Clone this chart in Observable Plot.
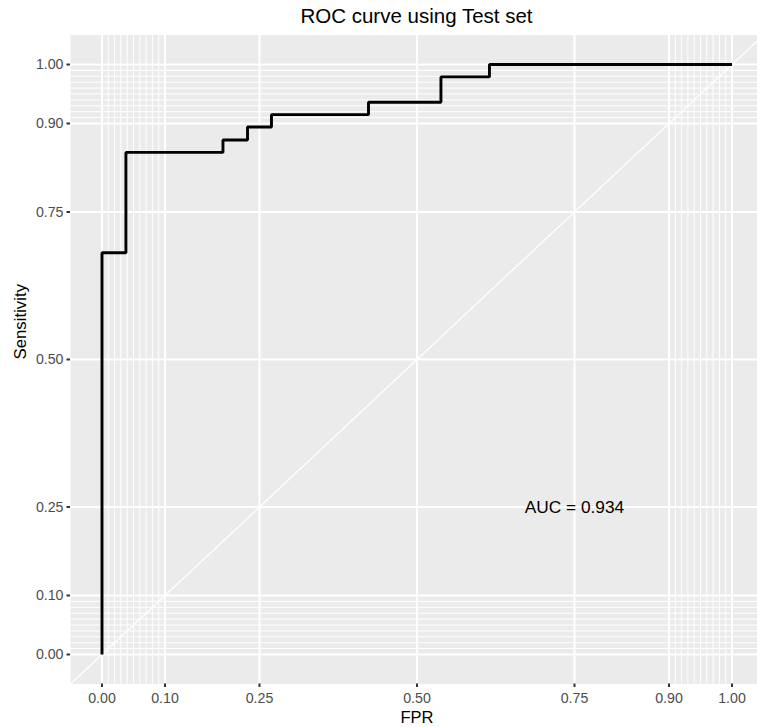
<!DOCTYPE html>
<html><head><meta charset="utf-8">
<script src="https://cdn.jsdelivr.net/npm/d3@7"></script>
<script src="https://cdn.jsdelivr.net/npm/@observablehq/plot@0.6"></script>
<style>
body{margin:0;background:#fff;font-family:"Liberation Sans",Arial,Helvetica,sans-serif;}
#wrap{position:relative;width:757px;height:727px;overflow:hidden;background:#fff}
#title{height:26px;box-sizing:border-box;padding-top:5.6px;padding-left:76px;width:757px;text-align:center;font-size:20.5px;line-height:20px;white-space:nowrap;color:#000}
#chart svg{display:block}
</style></head><body>
<div id="wrap"><div id="title">ROC curve using Test set</div><div id="chart"></div></div>
<script>
// ROC curve points (step curve): false positive rate and sensitivity
const fpr = [0, 0, 0.038, 0.192, 0.231, 0.269, 0.423, 0.538, 0.615, 1];
const tpr = [0, 0.681, 0.851, 0.872, 0.894, 0.915, 0.936, 0.979, 1, 1];
// axis breaks
const majorBreaks = [0, 0.1, 0.25, 0.5, 0.75, 0.9, 1];
const minorBreaks = [0, 0.01, 0.02, 0.03, 0.04, 0.05, 0.06, 0.07, 0.08, 0.09, 0.1,
                     0.9, 0.91, 0.92, 0.93, 0.94, 0.95, 0.96, 0.97, 0.98, 0.99, 1];
const axisLimits = [-0.05, 1.05];
// annotation
const aucLabel = ["AUC = 0.934"];
const aucPos = [0.75, 0.25];
const xTitle = ["FPR"];
const yTitle = ["Sensitivity"];

const roc = fpr.map((f, i) => ({fpr: f, tpr: tpr[i]}));
const fmt = d3.format(".2f");

const chart = Plot.plot({
  width: 757,
  height: 701,
  marginLeft: 70,
  marginRight: -6,
  marginTop: 8.5,
  marginBottom: 43.5,
  style: {fontFamily: '"Liberation Sans", Arial, Helvetica, sans-serif', background: "transparent"},
  x: {domain: axisLimits, axis: null},
  y: {domain: axisLimits, axis: null},
  marks: [
    Plot.frame({fill: "#EBEBEB", stroke: "none"}),
    Plot.gridX(minorBreaks, {stroke: "white", strokeOpacity: 1, strokeWidth: 1}),
    Plot.gridY(minorBreaks, {stroke: "white", strokeOpacity: 1, strokeWidth: 1}),
    Plot.gridX(majorBreaks, {stroke: "white", strokeOpacity: 1, strokeWidth: 2}),
    Plot.gridY(majorBreaks, {stroke: "white", strokeOpacity: 1, strokeWidth: 2}),
    Plot.line(axisLimits, {x: d => d, y: d => d, stroke: "white", strokeWidth: 1.3}),
    Plot.line(roc, {x: "fpr", y: "tpr", curve: "step-after", stroke: "black", strokeWidth: 2.9, strokeLinejoin: "miter", strokeLinecap: "butt"}),
    Plot.text(aucLabel, {x: () => aucPos[0], y: () => aucPos[1], text: d => d, fontSize: 17.3, fill: "black"}),
    Plot.axisX({ticks: majorBreaks, tickFormat: fmt, tickSize: 3.5, tickPadding: 5.5, stroke: "#333333", strokeWidth: 2, fill: "#4D4D4D", fontSize: 14.2, label: null}),
    Plot.axisY({ticks: majorBreaks, tickFormat: fmt, tickSize: 3.5, tickPadding: 3.5, stroke: "#333333", strokeWidth: 2, fill: "#4D4D4D", fontSize: 14.2, label: null}),
    Plot.text(xTitle, {frameAnchor: "bottom", text: d => d, dy: 33.9, fontSize: 16.5, fill: "black", lineAnchor: "middle"}),
    Plot.text(yTitle, {frameAnchor: "left", text: d => d, dx: -49.5, rotate: -90, fontSize: 16.8, fill: "black", lineAnchor: "middle"})
  ]
});
document.getElementById("chart").appendChild(chart);
</script>
</body></html>
